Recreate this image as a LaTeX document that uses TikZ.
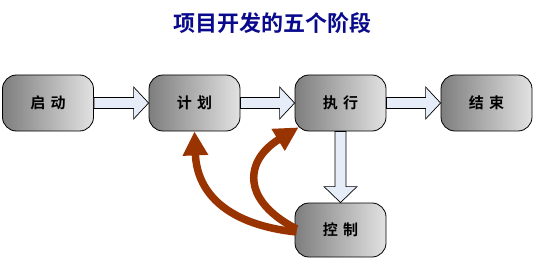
\documentclass[tikz,border=0pt]{standalone}
\usepackage{fontspec}
\newfontfamily\cjk{Noto Sans CJK SC Bold}
\usetikzlibrary{calc,arrows.meta}
\definecolor{navy}{HTML}{0A0A8C}
\definecolor{brownarrow}{HTML}{993300}
\definecolor{paleblue}{HTML}{E6EDF8}
\definecolor{boxdark}{HTML}{7E7E7E}
\definecolor{boxlight}{HTML}{E2E2E2}
\tikzset{
  stage/.style={draw=black, line width=0.8pt, rounded corners=14pt,
    minimum width=91pt, minimum height=56pt, inner sep=0pt,
    left color=boxdark, right color=boxlight,
    font=\cjk\fontsize{15}{15}\selectfont},
  blockarrow/.style={draw=black, line width=0.7pt, fill=paleblue},
  loopback/.style={draw=brownarrow, line width=7.5pt,
    -{Triangle[length=24pt,width=24pt]}}
}
\begin{document}
\begin{tikzpicture}[x=1pt,y=-1pt]
\useasboundingbox (0,0) rectangle (536,262);
\node[font=\cjk\fontsize{22}{22}\selectfont, text=navy] (title) at (272,23) {项目开发的五个阶段};
\node[stage] (start) at (48,103) {启\hspace{0.35em}动};
\node[stage] (plan) at (194.5,103) {计\hspace{0.35em}划};
\node[stage] (exec) at (340.5,103) {执\hspace{0.35em}行};
\node[stage] (done) at (486.5,103) {结\hspace{0.35em}束};
\node[stage, minimum height=54pt] (ctrl) at (340.5,230) {控\hspace{0.35em}制};
% horizontal block arrows
\foreach \a/\b in {start/plan, plan/exec, exec/done}{
  \draw[blockarrow] ($(\a.east)+(0,-5.5)$) -- ($(\b.west)+(-15,-5.5)$)
    -- ($(\b.west)+(-15,-16)$) -- (\b.west) -- ($(\b.west)+(-15,16)$)
    -- ($(\b.west)+(-15,5.5)$) -- ($(\a.east)+(0,5.5)$) -- cycle;
}
% vertical block arrow
\draw[blockarrow] ($(exec.south)+(-5.5,0)$) -- ($(ctrl.north)+(-5.5,-16)$)
  -- ($(ctrl.north)+(-16.5,-16)$) -- (ctrl.north) -- ($(ctrl.north)+(16.5,-16)$)
  -- ($(ctrl.north)+(5.5,-16)$) -- ($(exec.south)+(5.5,0)$) -- cycle;
% brown feedback arrows
\draw[loopback] ($(ctrl.west)+(2,2)$) .. controls (230,225) and (197,195) .. (plan.south);
\draw[loopback] ($(ctrl.west)+(2,-1)$) .. controls (240,200) and (245,160) .. ($(exec.south west)+(4,-4)$);
\end{tikzpicture}
\end{document}
